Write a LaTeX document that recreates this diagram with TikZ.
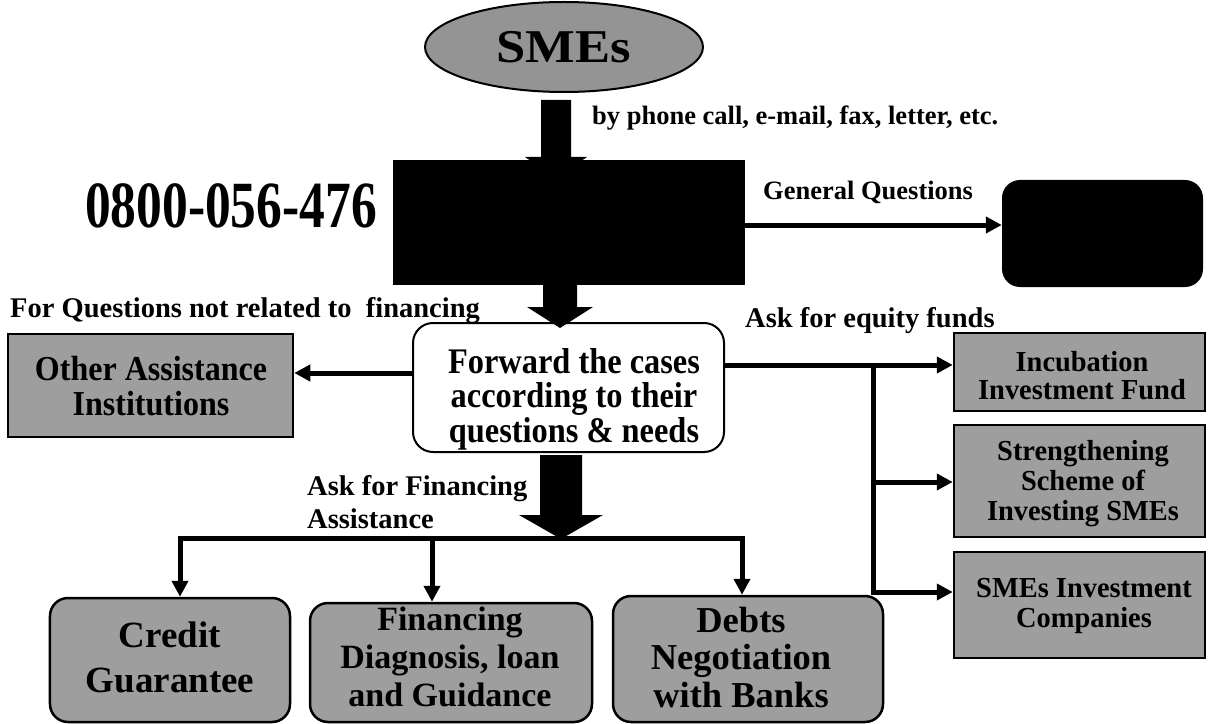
\documentclass[tikz,border=0pt]{standalone}
\usepackage{fontspec}
\setmainfont{Liberation Serif}
\newfontfamily\fSme{Liberation Serif}[FakeStretch=1.12]
\newfontfamily\fNum{Liberation Serif}[FakeStretch=0.78]
\newfontfamily\fFwd{Liberation Serif}[FakeStretch=0.9]
\newfontfamily\fOther{Liberation Serif}[FakeStretch=0.915]
\newfontfamily\fRight{Liberation Serif}[FakeStretch=0.98]
\usetikzlibrary{arrows.meta,shapes.geometric,calc}
\newcommand\fs[2]{\fontsize{#1bp}{#2bp}\selectfont}
\newcommand\lines[1]{\vtop{\halign{\hfil##\hfil\cr#1\crcr}}}
\newcommand\leftlines[1]{\vtop{\halign{##\hfil\cr#1\crcr}}}
\newcommand\bigarrow[6]{\fill ({#1-#5},#2) -- ({#1+#5},#2) -- ({#1+#5},#3) -- ({#1+#6},#3) -- (#1,#4) -- ({#1-#6},#3) -- ({#1-#5},#3) -- cycle;}
\begin{document}
\begin{tikzpicture}[x=1bp,y=-1bp,
  conn/.style={line width=5bp,-{Triangle[length=16bp,width=16bp]}},
  gbox/.style={draw,line width=2.5bp,fill=black!38,inner sep=0pt},
  rgbox/.style={gbox,rounded corners=18bp},
  txt/.style={inner sep=0pt,anchor=base},
  lbl/.style={inner sep=0pt,anchor=base west,font=\bfseries\fs{28.5}{33}},
  slbl/.style={inner sep=0pt,anchor=base west,font=\bfseries\fs{26.5}{30}},
]
\useasboundingbox (0,0) rectangle (1208,724);

% top
\node[ellipse,draw,line width=2bp,fill=black!42,minimum width=278bp,minimum height=90bp,inner sep=0pt] (sme) at (564,47) {\fSme\bfseries\fs{47}{47}SMEs};
\bigarrow{556}{100}{157}{178}{15}{31}
\node[fill=black,minimum width=352bp,minimum height=125bp,inner sep=0pt] (phone) at (569,222.5) {};
\node[txt] (num) at (231,228) {\fNum\bfseries\fs{66}{66}0800-056-476};
\node[slbl] (byph) at (592,125) {by phone call, e-mail, fax, letter, etc.};
\node[slbl] (gq) at (763,200) {General Questions};
\node[fill=black,rounded corners=18bp,minimum width=201bp,minimum height=107bp,inner sep=0pt] (rbox) at (1102.5,233.5) {};
\draw[conn] (phone.east |- 0,225) -- (rbox.west |- 0,225);

% forward box
\node[draw,line width=2bp,fill=white,rounded corners=20bp,minimum width=311bp,minimum height=129bp,inner sep=0pt] (fwd) at (568.5,387.5) {};
\node[txt] (fwdT) at (574,373) {\fFwd\bfseries\fs{36}{34.5}\lines{Forward the cases\cr according to their\cr questions \& needs}};
\bigarrow{560}{285}{307}{328}{17}{33}
\node[lbl] (forq) at (10,317) {For Questions not related to\ \ financing};
\node[lbl] (askeq) at (745,327) {Ask for equity funds};

% other assistance
\node[gbox,minimum width=285bp,minimum height=103bp] (other) at (150.5,385.5) {};
\node[txt] (otherT) at (151,380) {\fOther\bfseries\fs{35}{35}\lines{Other Assistance\cr Institutions}};
\draw[conn] (fwd.west |- 0,373) -- (other.east |- 0,373);

% equity boxes
\node[gbox,minimum width=251bp,minimum height=78bp] (inc) at (1079.5,372) {};
\node[txt] (incT) at (1082,371) {\fRight\bfseries\fs{29}{28.5}\lines{Incubation\cr Investment Fund}};
\node[gbox,minimum width=251bp,minimum height=112bp] (str) at (1079.5,481) {};
\node[txt] (strT) at (1083,460) {\fRight\bfseries\fs{29}{30}\lines{Strengthening\cr Scheme of\cr Investing SMEs}};
\node[gbox,minimum width=251bp,minimum height=106bp] (smi) at (1079.5,605) {};
\node[txt] (smiT) at (1084,597) {\fRight\bfseries\fs{29}{30}\lines{SMEs Investment\cr Companies}};
\coordinate (eqJ) at (873,365);
\coordinate (eqB) at (873,592);
\draw[conn] (fwd.east |- eqJ) -- (inc.west |- eqJ);
\draw[conn] (eqJ) -- (eqB) -- (smi.west |- eqB);
\draw[conn] (eqJ |- 0,482) -- (str.west |- 0,482);

% financing
\node[lbl] (askfin) at (307,495) {\leftlines{Ask for Financing\cr Assistance}};
\node[rgbox,minimum width=240bp,minimum height=124bp] (credit) at (170,660) {};
\node[txt] (creditT) at (170,647) {\bfseries\fs{37}{45}\lines{Credit\cr Guarantee}};
\node[rgbox,minimum width=282bp,minimum height=119bp] (fin) at (451,662.5) {};
\node[txt] (finT) at (450,630) {\bfseries\fs{34}{38}\lines{Financing\cr Diagnosis, loan\cr and Guidance}};
\node[rgbox,minimum width=270bp,minimum height=126bp] (debts) at (748,659) {};
\node[txt] (debtsT) at (741,632) {\bfseries\fs{36.5}{37.5}\lines{Debts\cr Negotiation\cr with Banks}};
\bigarrow{561}{455}{515}{539}{21}{42}
\coordinate (busL) at (180,538);
\coordinate (busM) at (432,538);
\coordinate (busR) at (742,538);
\draw[conn] (busM) -- (busL) -- (busL |- credit.north);
\draw[conn] (busM) -- (busR) -- (busR |- debts.north);
\draw[conn] (busM) -- (busM |- fin.north);
\end{tikzpicture}
\end{document}
